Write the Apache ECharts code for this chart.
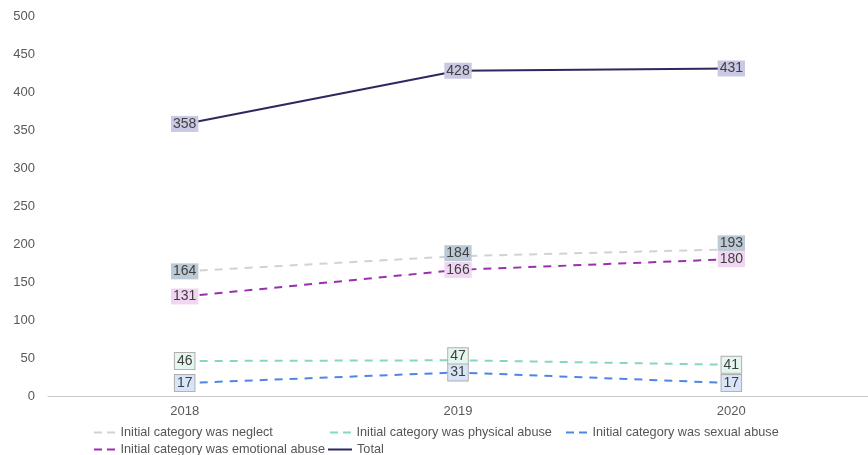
<!DOCTYPE html>
<html><head><meta charset="utf-8">
<script src="https://cdn.jsdelivr.net/npm/echarts@6/dist/echarts.min.js"></script>
<style>html,body{margin:0;padding:0;background:#fff}#c{width:868px;height:455px}</style>
</head><body><div id="c"></div>
<script>
const years = ['2018', '2019', '2020'];
const neglect = [164, 184, 193];
const physical = [46, 47, 41];
const sexual = [17, 31, 17];
const emotional = [131, 166, 180];
const total = [358, 428, 431];
const yTicks = {min: 0, max: 500, interval: 50};

const names = ['Initial category was neglect', 'Initial category was physical abuse', 'Initial category was sexual abuse', 'Initial category was emotional abuse', 'Total'];
const FONT = '"Liberation Sans", Arial, sans-serif';
const DASH_ICON = 'path://M0,0 h8 v2 h-8 z M13,0 h8 v2 h-8 z';
const SOLID_ICON = 'path://M0,0 h24 v2 h-24 z';

function mk(name, values, color, dashed, bg, border, z, shifts) {
  const data = values.map((v, i) => (shifts && shifts[i]) ? {value: v, label: {offset: [0, shifts[i]]}} : v);
  return {
    name, type: 'line', data, symbol: 'circle', symbolSize: 0, showSymbol: true, z,
    lineStyle: {color, width: 2, type: dashed ? [8, 7] : 'solid'},
    itemStyle: {color},
    label: {
      show: true, position: 'inside', color: '#404040', fontSize: 14, lineHeight: 15, fontFamily: FONT,
      backgroundColor: bg, borderColor: border, borderWidth: border ? 1 : 0,
      padding: [1, 2, 0, 2]
    },
    emphasis: {disabled: true}
  };
}

const chart = echarts.init(document.getElementById('c'));
const legendBase = {itemWidth: 22, itemHeight: 2, itemGap: 5, textStyle: {color: '#555', fontSize: 12.7, fontFamily: FONT}, selectedMode: false, padding: 0};
function lg(i, left, top, w) {
  return Object.assign({}, legendBase, {data: [{name: names[i], icon: i === 4 ? SOLID_ICON : DASH_ICON}], left, top, itemWidth: w || 22});
}
chart.setOption({
  animation: false,
  grid: {left: 48, right: 0, top: 16, bottom: 59},
  xAxis: {
    type: 'category', data: years,
    axisLine: {lineStyle: {color: '#c8c8c8'}},
    axisTick: {show: false},
    axisLabel: {color: '#595959', fontSize: 13, fontFamily: FONT, margin: 9}
  },
  yAxis: {
    type: 'value', min: yTicks.min, max: yTicks.max, interval: yTicks.interval,
    splitLine: {show: false}, axisLine: {show: false}, axisTick: {show: false},
    axisLabel: {color: '#595959', fontSize: 13, fontFamily: FONT, margin: 13}
  },
  legend: [lg(0, 94, 426), lg(1, 330, 426), lg(2, 566, 426), lg(3, 94, 443), lg(4, 328, 443, 24)],
  series: [
    mk(names[3], emotional, '#9b2fb0', true, '#f0d6f2', null, 3),
    mk(names[0], neglect, '#d0d2d6', true, '#bccad6', null, 2, [0, -3, -6]),
    mk(names[2], sexual, '#4f86e6', true, '#d8e4f8', '#b0b0b0', 3),
    mk(names[1], physical, '#86d8bd', true, '#e4f6ee', '#b0b0b0', 2, [0, -4, 0]),
    mk(names[4], total, '#2b2960', false, '#c9c9e6', null, 4)
  ]
});
</script></body></html>
